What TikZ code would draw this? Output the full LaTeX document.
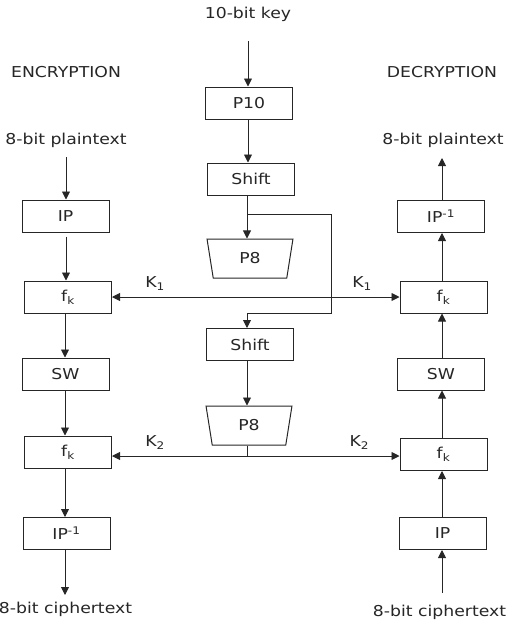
\documentclass[tikz,border=0pt]{standalone}
\usepackage{fontspec}
\setmainfont[FakeStretch=1.15]{DejaVu Sans}
\usetikzlibrary{arrows.meta,shapes.geometric}
\begin{document}
\begin{tikzpicture}[x=1pt,y=-1pt,
  every node/.style={font=\fontsize{15}{17}\selectfont, text=black!85},
  box/.style={draw=black!85, line width=1pt, minimum width=87pt, minimum height=32pt, inner sep=0pt},
  trap/.style={draw=black!85, line width=1pt, trapezium, shape border rotate=180, trapezium angle=81, trapezium stretches=true, minimum width=86pt, minimum height=39pt, inner sep=0pt},
  lbl/.style={inner sep=0pt},
  arr/.style={draw=black!85, line width=0.9pt, -{Triangle[length=8pt,width=8pt]}},
  darr/.style={draw=black!85, line width=0.9pt, {Triangle[length=8pt,width=8pt]}-{Triangle[length=8pt,width=8pt]}},
  ln/.style={draw=black!85, line width=0.9pt}]
\useasboundingbox (0,0) rectangle (506,622);
% key schedule
\node[lbl] (key) at (248,14) {10-bit key};
\node[box] (p10) at (249,103) {P10};
\node[box] (sh1) at (251,179) {Shift};
\node[trap] (p8a) at (250,258.5) {P8};
\node[box] (sh2) at (250,344.5) {Shift};
\node[trap] (p8b) at (249,425.5) {P8};
\coordinate (br) at (247,214);
\coordinate (bra) at (331,214);
\coordinate (brb) at (331,313);
\coordinate (brc) at (247,313);
\coordinate (k2) at (247,456);
% encryption
\node[lbl] (enc) at (66,72) {ENCRYPTION};
\node[lbl] (lpt) at (66,140) {8-bit plaintext};
\node[box] (lip) at (65.5,216) {IP};
\node[box] (lf1) at (68,297) {f\textsubscript{k}};
\node[box] (lsw) at (65.5,374) {SW};
\node[box] (lf2) at (68,452) {f\textsubscript{k}};
\node[box] (lipi) at (66.5,533.5) {IP\textsuperscript{-1}};
\node[lbl] (lct) at (65.5,609) {8-bit ciphertext};
\coordinate (lend) at (65,595);
% decryption
\node[lbl] (dec) at (442,72) {DECRYPTION};
\node[lbl] (rpt) at (443,140) {8-bit plaintext};
\node[box] (ripi) at (441,216.5) {IP\textsuperscript{-1}};
\node[box] (rf1) at (443.5,297) {f\textsubscript{k}};
\node[box] (rsw) at (441,374) {SW};
\node[box] (rf2) at (443.5,454.5) {f\textsubscript{k}};
\node[box] (rip) at (442.5,533.5) {IP};
\node[lbl] (rct) at (439.5,612) {8-bit ciphertext};
\coordinate (rstart) at (442,593);
% key arrows
\draw[arr] (key.south |- 0,41) -- (p10.north -| key.south);
\draw[arr] (p10.south -| 248,0) -- (sh1.north -| 248,0);
\draw[arr] (sh1.south -| br) -- (p8a.north -| br);
\draw[ln] (br) -- (bra) -- (brb) -- (brc);
\draw[arr] (brc) -- (sh2.north -| brc);
\draw[arr] (sh2.south -| brc) -- (p8b.north -| brc);
\draw[ln] (p8b.south -| k2) -- (k2);
\draw[darr] (lf1.east) -- (rf1.west) node[pos=0.15, above=6pt, lbl] (k1l) {K\textsubscript{1}} node[pos=0.87, above=6pt, lbl] (k1r) {K\textsubscript{1}};
\draw[darr] (lf2.east |- k2) -- (rf2.west |- k2) node[pos=0.15, above=6pt, lbl] (k2l) {K\textsubscript{2}} node[pos=0.86, above=6pt, lbl] (k2r) {K\textsubscript{2}};
% encryption arrows
\draw[arr] (66,157) -- (lip.north -| 66,0);
\draw[arr] (lip.south -| 66,0) ++(0,4) -- (lf1.north -| 66,0);
\draw[arr] (lf1.south -| 65,0) -- (lsw.north -| 65,0);
\draw[arr] (lsw.south -| 65,0) -- (lf2.north -| 65,0);
\draw[arr] (lf2.south -| 65,0) -- (lipi.north -| 65,0);
\draw[arr] (lipi.south -| lend) -- (lend);
% decryption arrows
\draw[arr] (ripi.north -| 442,0) -- (442,158);
\draw[arr] (rf1.north -| 442,0) -- (ripi.south -| 442,0);
\draw[arr] (rsw.north -| 442,0) -- (rf1.south -| 442,0);
\draw[arr] (rf2.north -| 442,0) -- (rsw.south -| 442,0);
\draw[arr] (rip.north -| 442,0) -- (rf2.south -| 442,0);
\draw[arr] (rstart) -- (rip.south -| rstart);
\end{tikzpicture}
\end{document}
